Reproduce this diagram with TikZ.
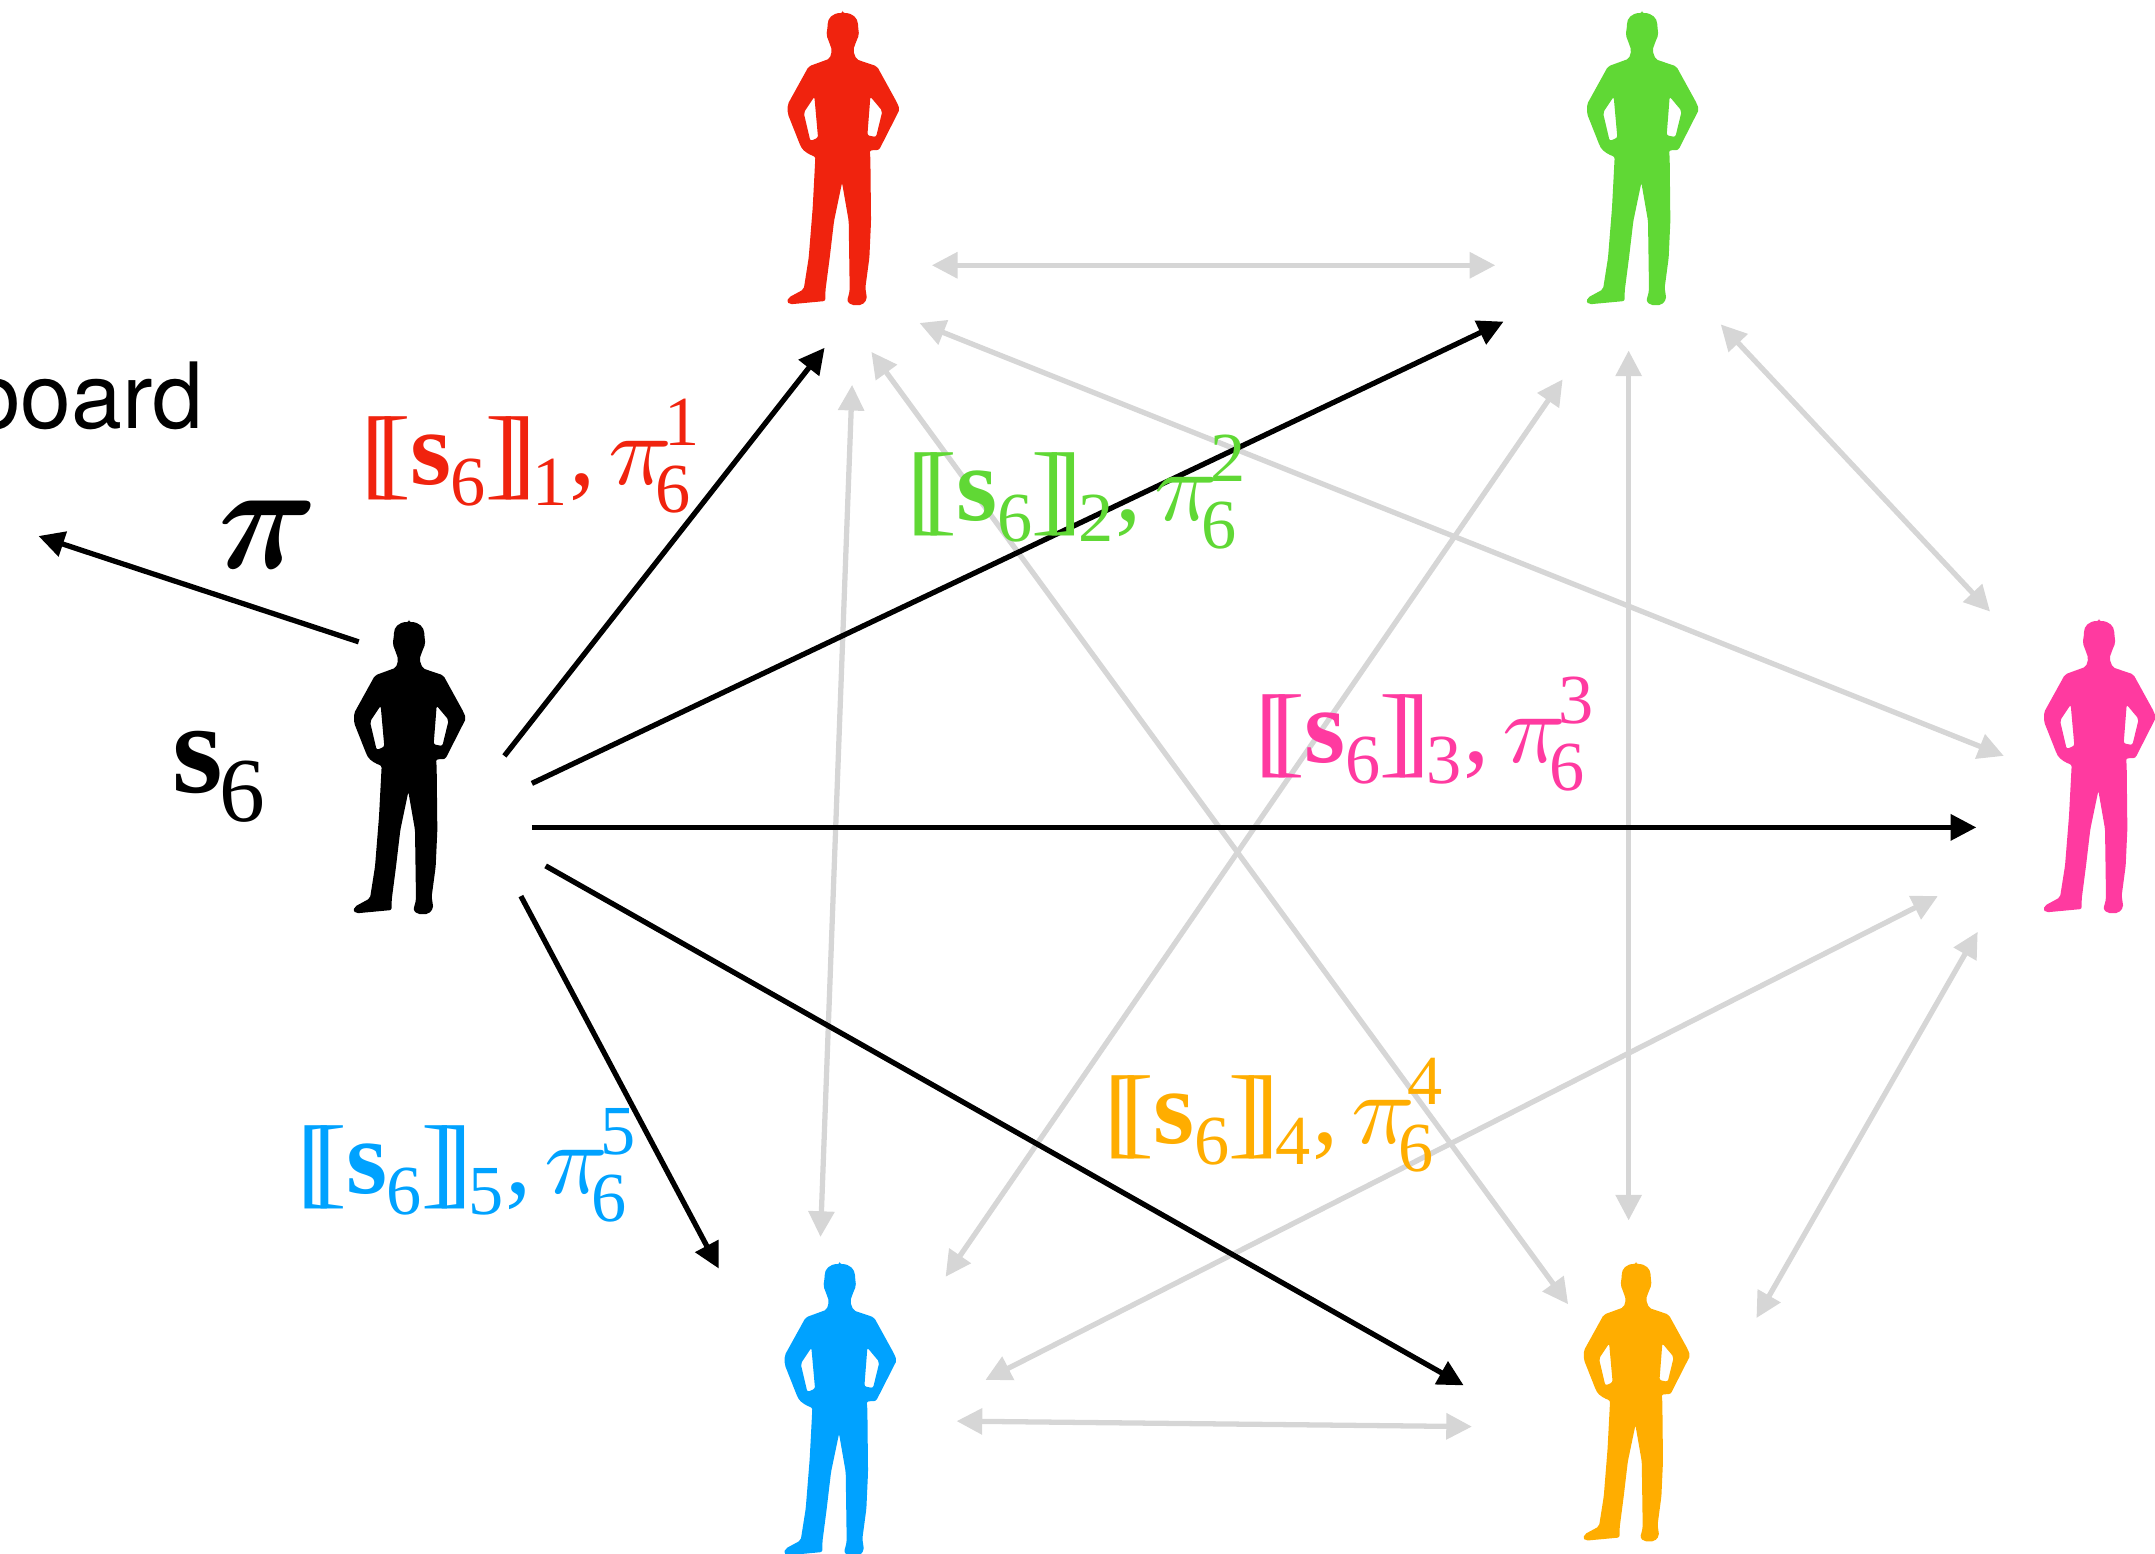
\documentclass[tikz,border=0pt]{standalone}
\usepackage{fontspec}
\usepackage{graphicx}
\setmainfont{Liberation Serif}
\newfontfamily\helv{TeX Gyre Heros}
\usetikzlibrary{arrows.meta}
\definecolor{cred}{HTML}{F0230E}
\definecolor{cgreen}{HTML}{60D835}
\definecolor{cpink}{HTML}{FF3AA0}
\definecolor{corange}{HTML}{FFAD00}
\definecolor{cblue}{HTML}{00A2FF}
\definecolor{cgray}{HTML}{D6D6D6}
\font\bigpifont=cmmib10 at 40pt
\newcommand\plc[3]{\rlap{\kern #1pt\raisebox{#2pt}{#3}}}
\newcommand\bigf{\fontsize{30}{30}\selectfont}
\newcommand\brf{\fontsize{28.6}{30}\selectfont}
\newcommand\smf{\fontsize{20}{20}\selectfont}
\newcommand\sharelab[1]{%
 \plc{-2.6}{-.6}{\brf[}\plc{2.1}{-.6}{\brf[}%
 \plc{11.5}{0}{\bigf\bfseries s}\plc{22.9}{-6}{\smf 6}%
 \plc{32.7}{-.6}{\brf]}\plc{37.4}{-.6}{\brf]}%
 \plc{46.1}{-6}{\smf #1}\plc{56.6}{0}{\bigf,}%
 \plc{67.6}{0}{\scalebox{3.0}[2.85]{$\pi$}}%
 \plc{83.6}{11}{\smf #1}\plc{81}{-8}{\smf 6}}
\tikzset{
 x=0.01cm,y=-0.01cm,
 grayarrow/.style={draw=cgray,line width=1.5pt,{Triangle[length=7.3pt,width=7.2pt]}-{Triangle[length=7.3pt,width=7.2pt]}},
 blackarrow/.style={draw=black,line width=1.5pt,-{Triangle[length=7.3pt,width=7.2pt]}},
 sharelabel/.style={inner sep=0pt,anchor=base west},
 plainlabel/.style={inner sep=0pt,anchor=base west},
 personbox/.style={inner sep=0pt,minimum width=1.13cm,minimum height=2.9cm}
}
\newcommand\person[5]{% name, x shift, y shift, scale, colour
 \begin{scope}[shift={(#2,#3)},x=#4*0.01cm/3,y=-#4*0.01cm/3]
  \node[personbox] (#1) at (240,505) {};
  \fill[#5,even odd rule,rounded corners=.6pt]
   (237,66) .. controls (206,66) and (192,82) .. (192,105) -- (188,132) -- (195,150) -- (205,178) -- (198,203)
   -- (135,226) -- (72,340) -- (72,368) -- (110,464) .. controls (120,482) and (140,492) .. (155,497)
   -- (147,650) -- (135,800) -- (120,895) -- (74,920) -- (70,932) -- (78,940) -- (185,930) -- (185,900)
   -- (198,800) -- (211,690) -- (235,575) -- (255,690) -- (258,900) -- (250,930) -- (262,942) -- (295,942) -- (310,925) -- (305,890)
   -- (317,800) -- (322,690) -- (320,500) -- (318,478) -- (346,477) -- (408,355) -- (400,335) -- (340,226)
   -- (278,205) -- (268,178) -- (278,150) -- (286,132) -- (283,105) .. controls (282,82) and (268,66) .. (237,66) -- cycle
   (152,317) -- (120,365) -- (140,450) -- (163,440) -- cycle
   (320,317) -- (356,360) -- (337,438) -- (311,433) -- cycle;
 \end{scope}}
\begin{document}
\begin{tikzpicture}
\useasboundingbox (0,0) rectangle (2155,1553);
\clip (0,0) rectangle (2155,1553);
\begin{scope}[scale=1.37436]
 \coordinate (pis) at (261,467); \coordinate (pie) at (28,390);
 \coordinate (b1s) at (367,550); \coordinate (b1e) at (600,253);
 \coordinate (b2s) at (387,570); \coordinate (b2e) at (1094,234);
 \coordinate (b3s) at (387,602); \coordinate (b3e) at (1438,602);
 \coordinate (b4s) at (397,630); \coordinate (b4e) at (1065,1008);
 \coordinate (b5s) at (379,652); \coordinate (b5e) at (523,923);
 \coordinate (g1a) at (678,193); \coordinate (g1b) at (1088,193);
 \coordinate (g2a) at (669,235); \coordinate (g2b) at (1458,550);
 \coordinate (g3a) at (634,256); \coordinate (g3b) at (1141,949);
 \coordinate (g4a) at (620,280); \coordinate (g4b) at (597,900);
 \coordinate (g5a) at (1252,236); \coordinate (g5b) at (1448,445);
 \coordinate (g6a) at (1185,255); \coordinate (g6b) at (1185,888);
 \coordinate (g7a) at (1137,276); \coordinate (g7b) at (688,929);
 \coordinate (g8a) at (1439,678); \coordinate (g8b) at (1278,959);
 \coordinate (g9a) at (1410,652); \coordinate (g9b) at (717,1004);
 \coordinate (g10a) at (696,1034); \coordinate (g10b) at (1071,1038);
\end{scope}
\person{pblack}{330}{600}{1}{black}
\person{pred}{763.7}{-9}{1}{cred}
\person{pgreen}{1563}{-9}{1}{cgreen}
\person{ppink}{2020}{599}{1}{cpink}
\person{pblue}{760.7}{1242}{1}{cblue}
\person{porange}{1561}{1243}{.95}{corange}
\foreach \i in {1,...,10} \draw[grayarrow] (g\i a) -- (g\i b);
\draw[blackarrow] (pis) -- (pie);
\foreach \i in {1,...,5} \draw[blackarrow] (b\i s) -- (b\i e);
\node[plainlabel,anchor=base east] (board) at (204,428) {\helv\fontsize{26}{26}\selectfont board};
\node[plainlabel,xslant=.18,transform shape] (pilab) at (210,568) {\scalebox{.95}[1.08]{\bigpifont\char25}};
\node[plainlabel] (slab) at (172,792) {\fontsize{37}{37}\selectfont\bfseries s\kern-1pt\raisebox{-8.5pt}{\fontsize{26}{26}\selectfont\mdseries 6}};
\node[sharelabel,text=cred] (l1) at (368,484) {\sharelab{1}};
\node[sharelabel,text=cgreen] (l2) at (914,520) {\sharelab{2}};
\node[sharelabel,text=cpink] (l3) at (1262,762) {\sharelab{3}};
\node[sharelabel,text=corange] (l4) at (1111,1143) {\sharelab{4}};
\node[sharelabel,text=cblue] (l5) at (304,1193) {\sharelab{5}};
\end{tikzpicture}
\end{document}
